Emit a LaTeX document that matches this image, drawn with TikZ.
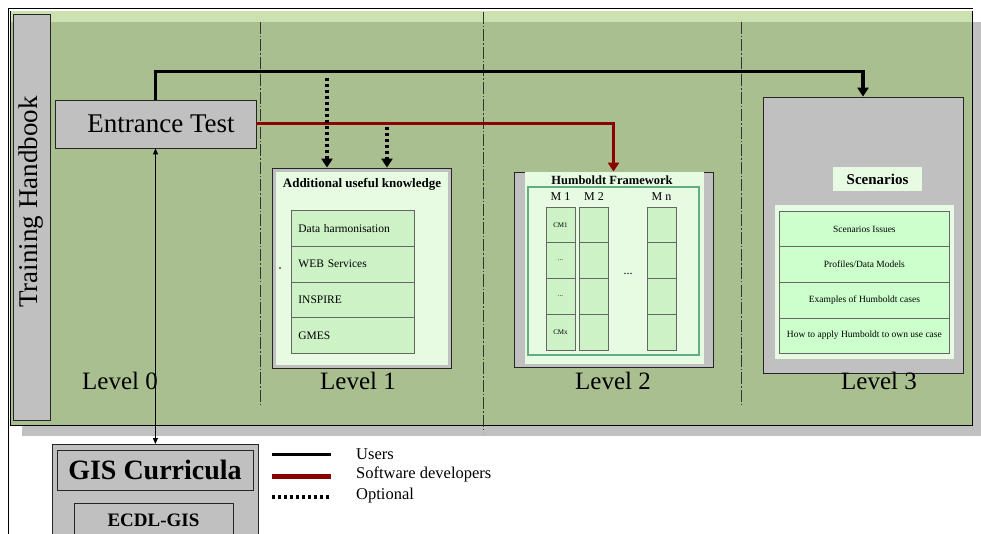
\documentclass[tikz,border=0pt]{standalone}
\usepackage{fontspec}
\setmainfont{Liberation Serif}
\usetikzlibrary{arrows.meta,calc}
\definecolor{pgreen}{HTML}{A9BF8F}
\definecolor{pband}{HTML}{CDE0B0}
\definecolor{pgray}{HTML}{C0C0C0}
\definecolor{dred}{HTML}{8B0000}
\definecolor{lgreen}{HTML}{E6FBE2}
\definecolor{cgreen}{HTML}{CCF2C6}
\definecolor{sgreen}{HTML}{CCFFCC}
\definecolor{hgreen}{HTML}{5FAF7F}
\newcommand\myfs[1]{\fontsize{#1}{#1}\selectfont}
\tikzset{
  graybox/.style={draw=black!85, line width=0.8pt, fill=pgray, inner sep=0pt},
  cell/.style={draw=black!60, line width=0.8pt, fill=cgreen, inner sep=0pt},
  sepline/.style={draw=black!80, line width=0.8pt, dash pattern=on 12pt off 2pt on 1.5pt off 2pt},
  users/.style={line width=3.5pt, -{Triangle[width=11pt,length=9pt]}},
  devs/.style={dred, line width=3pt, -{Triangle[width=11pt,length=9pt]}},
  optional/.style={line width=3.5pt, dash pattern=on 3pt off 3pt, -{Triangle[width=11pt,length=9pt]}},
  lvl/.style={font=\myfs{25}},
}
\begin{document}
\begin{tikzpicture}[x=1pt,y=-1pt]
\useasboundingbox (0,0) rectangle (981,534);
\fill[white] (0,0) rectangle (981,534);
% shadow and panel
\fill[pgray] (22,22) rectangle (981,436);
\draw[line width=0.8pt] (8,534) -- (8,8) -- (973,8);
\draw[fill=pgreen, line width=0.8pt] (10,11) rectangle (972,425);
\fill[pband] (10.5,11.5) rectangle (971.5,22);
% separators
\draw[sepline] (260,22) -- (260,405);
\draw[sepline] (483,12) -- (483,432);
\draw[sepline] (741,22) -- (741,405);
% training handbook
\node[graybox, minimum width=37pt, minimum height=406pt] (hb) at (31.5,217) {};
\node[rotate=90, font=\myfs{27}] (hbtext) at (31,202) {Training Handbook};
% entrance test
\node[graybox, minimum width=201pt, minimum height=48pt, font=\myfs{27}] (entrance) at (155.5,124) {\hspace*{11pt}Entrance Test};
% level 1
\node[graybox, minimum width=179pt, minimum height=200pt] (lvl1) at (361.5,268) {};
\fill[lgreen] (276,172) rectangle (448,365);
\node[font=\bfseries\myfs{13}] (lvl1title) at (362,184) {Additional useful knowledge};
\foreach \t [count=\i] in {Data harmonisation, WEB Services, INSPIRE, GMES}{
  \node[cell, anchor=north west, text width=109pt, inner xsep=7pt, align=left, minimum height=35.75pt, font=\myfs{11.5}] (k\i) at (291,{210+(\i-1)*35.75}) {\t};
}
\fill (280,268) circle (0.8pt);
% level 2
\node[graybox, minimum width=199pt, minimum height=195pt] (hum) at (613.5,269.5) {};
\fill[lgreen] (525,172.5) rectangle (704,364);
\node[font=\bfseries\myfs{12.5}] (humtitle) at (612,180) {Humboldt Framework};
\draw[hgreen, line width=1.5pt] (528,187) rectangle (699,355);
\foreach \c/\x/\lab in {a/560.5/M 1, b/594/M 2, n/661.5/M n}{
  \node[font=\myfs{12}] (m\c) at (\x,197) {\lab};
  \foreach \j in {1,...,4}{
    \node[cell, minimum width=29pt, minimum height=35.75pt] (c\c\j) at (\x,{224.9+(\j-1)*35.75}) {};
  }
}
\node[font=\myfs{7}] (cm1) at (ca1) {CM1};
\node[font=\myfs{7}] (cm2) at (ca2) {...};
\node[font=\myfs{7}] (cm3) at (ca3) {...};
\node[font=\myfs{7}] (cm4) at (ca4) {CMx};
\node[font=\myfs{12}] (hdots) at (628,274) {...};
% level 3
\node[graybox, minimum width=200pt, minimum height=276pt] (lvl3) at (863,235) {};
\node[fill=lgreen, minimum width=89pt, minimum height=24pt, inner sep=0pt, font=\bfseries\myfs{15}] (scen) at (877.5,179) {Scenarios};
\fill[lgreen] (775,205) rectangle (954,359);
\foreach \t [count=\i] in {Scenarios Issues, Profiles/Data Models, Examples of Humboldt cases, How to apply Humboldt to own use case}{
  \node[cell, fill=sgreen, anchor=north west, minimum width=170pt, minimum height=35.5pt, font=\myfs{9.5}] (s\i) at (779,{211+(\i-1)*35.5}) {\t};
}
% level labels
\node[lvl] (l0) at (120,381) {Level 0};
\node[lvl] (l1) at (358,381) {Level 1};
\node[lvl] (l2) at (613,381) {Level 2};
\node[lvl] (l3) at (879,381) {Level 3};
% GIS curricula
\node[graybox, anchor=north west, minimum width=206pt, minimum height=100pt] (gis) at (52,444) {};
\node[graybox, minimum width=196pt, minimum height=40pt, font=\bfseries\myfs{28}] (gisc) at (155,470) {GIS Curricula};
\node[graybox, anchor=north, minimum width=159pt, minimum height=36pt, font=\bfseries\myfs{19}] (ecdl) at (153.5,503) {\raisebox{3pt}{ECDL-GIS}};
% connectors
\draw[users] (entrance.north) -- ++(0,-28) -| (lvl3.north);
\draw[devs] (entrance.east) -| (hum.north);
\coordinate (d1) at (327,78);
\coordinate (d2) at (387,127);
\draw[optional] (d1) -- (d1 |- lvl1.north);
\draw[optional] (d2) -- (d2 |- lvl1.north);
\draw[line width=0.8pt, {Triangle[width=5pt,length=6pt]}-{Triangle[width=5pt,length=6pt]}] (entrance.south) -- (gis.north);
% legend
\draw[line width=3pt] (272,454) -- (331,454);
\draw[dred, line width=5pt] (272,476) -- (331,476);
\draw[line width=3.5pt, dash pattern=on 3pt off 3pt] (272,497) -- (331,497);
\node[anchor=west, font=\myfs{16.5}, inner sep=0pt] (lu) at (356,454) {Users};
\node[anchor=west, font=\myfs{16.5}, inner sep=0pt] (ls) at (356,474) {Software developers};
\node[anchor=west, font=\myfs{16.5}, inner sep=0pt] (lo) at (356,496) {Optional};
\end{tikzpicture}
\end{document}
